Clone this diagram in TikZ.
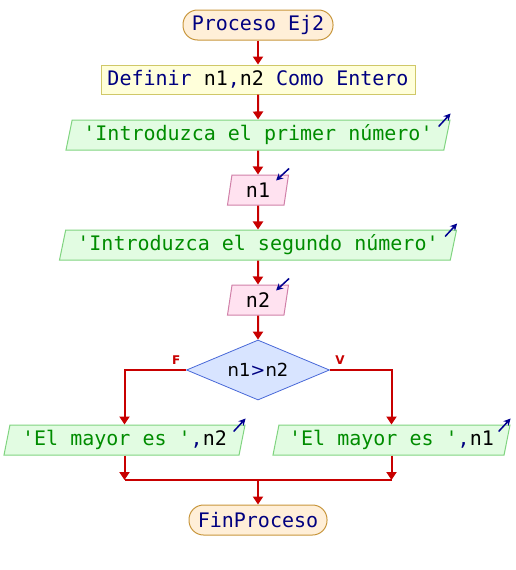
\documentclass[tikz,border=0pt]{standalone}
\usepackage{fontspec}
\setmainfont{DejaVu Sans}
\setsansfont{DejaVu Sans}
\setmonofont{DejaVu Sans Mono}
\usepackage{tikz}
\usetikzlibrary{arrows.meta,shapes.geometric}
\usepackage{xcolor}
\definecolor{azul}{HTML}{000080}
\definecolor{verde}{HTML}{008C00}
\definecolor{flecha}{HTML}{C80000}
\definecolor{azulio}{HTML}{000090}
\definecolor{fondoterm}{HTML}{FFEFD8}
\definecolor{bordeterm}{HTML}{C8963C}
\definecolor{fondodef}{HTML}{FFFFDA}
\definecolor{bordedef}{HTML}{D0C868}
\definecolor{fondosal}{HTML}{E2FCE2}
\definecolor{bordesal}{HTML}{80D480}
\definecolor{fondoent}{HTML}{FFE2F0}
\definecolor{bordeent}{HTML}{D080A8}
\definecolor{fondodec}{HTML}{D8E4FF}
\definecolor{bordedec}{HTML}{4868D8}

\begin{document}
\begin{tikzpicture}[x=1pt,y=-1pt,>={Triangle[width=10pt,length=8pt]},
  font=\fontsize{20}{24}\selectfont\ttfamily,
  terminal/.style={draw=bordeterm,fill=fondoterm,line width=1pt,rounded corners=14.5pt,minimum height=30pt,inner sep=0pt},
  definir/.style={draw=bordedef,fill=fondodef,line width=1pt,minimum height=29pt,inner sep=0pt},
  salida/.style={trapezium,trapezium left angle=73,trapezium right angle=107,trapezium stretches body,draw=bordesal,fill=fondosal,line width=1pt,minimum height=30pt,inner sep=0pt},
  entrada/.style={salida,draw=bordeent,fill=fondoent},
  decision/.style={diamond,aspect=2.38,draw=bordedec,fill=fondodec,line width=0.8pt,minimum width=143pt,minimum height=60pt,inner sep=0pt,font=\fontsize{18}{20}\selectfont\sffamily},
  flujo/.style={draw=flecha,line width=2pt},
  etiq/.style={text=flecha,font=\fontsize{12}{12}\selectfont\sffamily\bfseries},
  io/.style={draw=azulio,line width=1.5pt,-{Stealth[length=7pt,width=7pt]}}]
\useasboundingbox (0,0) rectangle (516,570);
\node[terminal,minimum width=150pt] (inicio) at (258,25) {\color{azul}Proceso Ej2};
\node[definir,minimum width=314pt] (def) at (258,79.5) {\color{azul}Definir {\color{black}n1},{\color{black}n2} Como Entero};
\node[salida,minimum width=384pt] (in1) at (258,135) {\color{verde}'Introduzca el primer número'};
\node[entrada,minimum width=61pt] (n1) at (258,190) {n1};
\node[salida,minimum width=397pt] (in2) at (258,245) {\color{verde}'Introduzca el segundo número'};
\node[entrada,minimum width=61pt] (n2) at (258,300) {n2};
\node[decision] (cond) at (258,370) {n1{\color{azul}>}n2};
\node[salida,minimum width=241pt] (out2) at (124.5,440) {{\color{verde}'El mayor es '}{\color{azul},}n2};
\node[salida,minimum width=237pt] (out1) at (391.5,440) {{\color{verde}'El mayor es '}{\color{azul},}n1};
\node[terminal,minimum width=138pt] (fin) at (258,520) {\color{azul}FinProceso};
\coordinate (union) at (258,480);
\draw[flujo,->] (inicio) -- (def);
\draw[flujo,->] (def) -- (in1);
\draw[flujo,->] (in1) -- (n1);
\draw[flujo,->] (n1) -- (in2);
\draw[flujo,->] (in2) -- (n2);
\draw[flujo,->] (n2) -- (cond);
\draw[flujo,->] (cond.west) -| (out2.north);
\draw[flujo,->] (cond.east) -| (out1.north);
\node[etiq] (falso) at ([shift={(-10,-10)}]cond.west) {F};
\node[etiq] (verdad) at ([shift={(10,-10)}]cond.east) {V};
\draw[flujo,->] (out2.south) -- (out2.south |- union);
\draw[flujo,->] (out1.south) -- (out1.south |- union);
\draw[flujo] (out2.south |- union) -- (out1.south |- union);
\draw[flujo,->] (union) -- (fin);
\draw[io] ([shift={(-12,7)}]in1.top right corner) -- ([shift={(0,-6)}]in1.top right corner);
\draw[io] ([shift={(0,-6)}]n1.top right corner) -- ([shift={(-13,6)}]n1.top right corner);
\draw[io] ([shift={(-12,7)}]in2.top right corner) -- ([shift={(0,-6)}]in2.top right corner);
\draw[io] ([shift={(0,-6)}]n2.top right corner) -- ([shift={(-13,6)}]n2.top right corner);
\draw[io] ([shift={(-12,7)}]out2.top right corner) -- ([shift={(0,-6)}]out2.top right corner);
\draw[io] ([shift={(-12,7)}]out1.top right corner) -- ([shift={(0,-6)}]out1.top right corner);
\end{tikzpicture}
\end{document}
